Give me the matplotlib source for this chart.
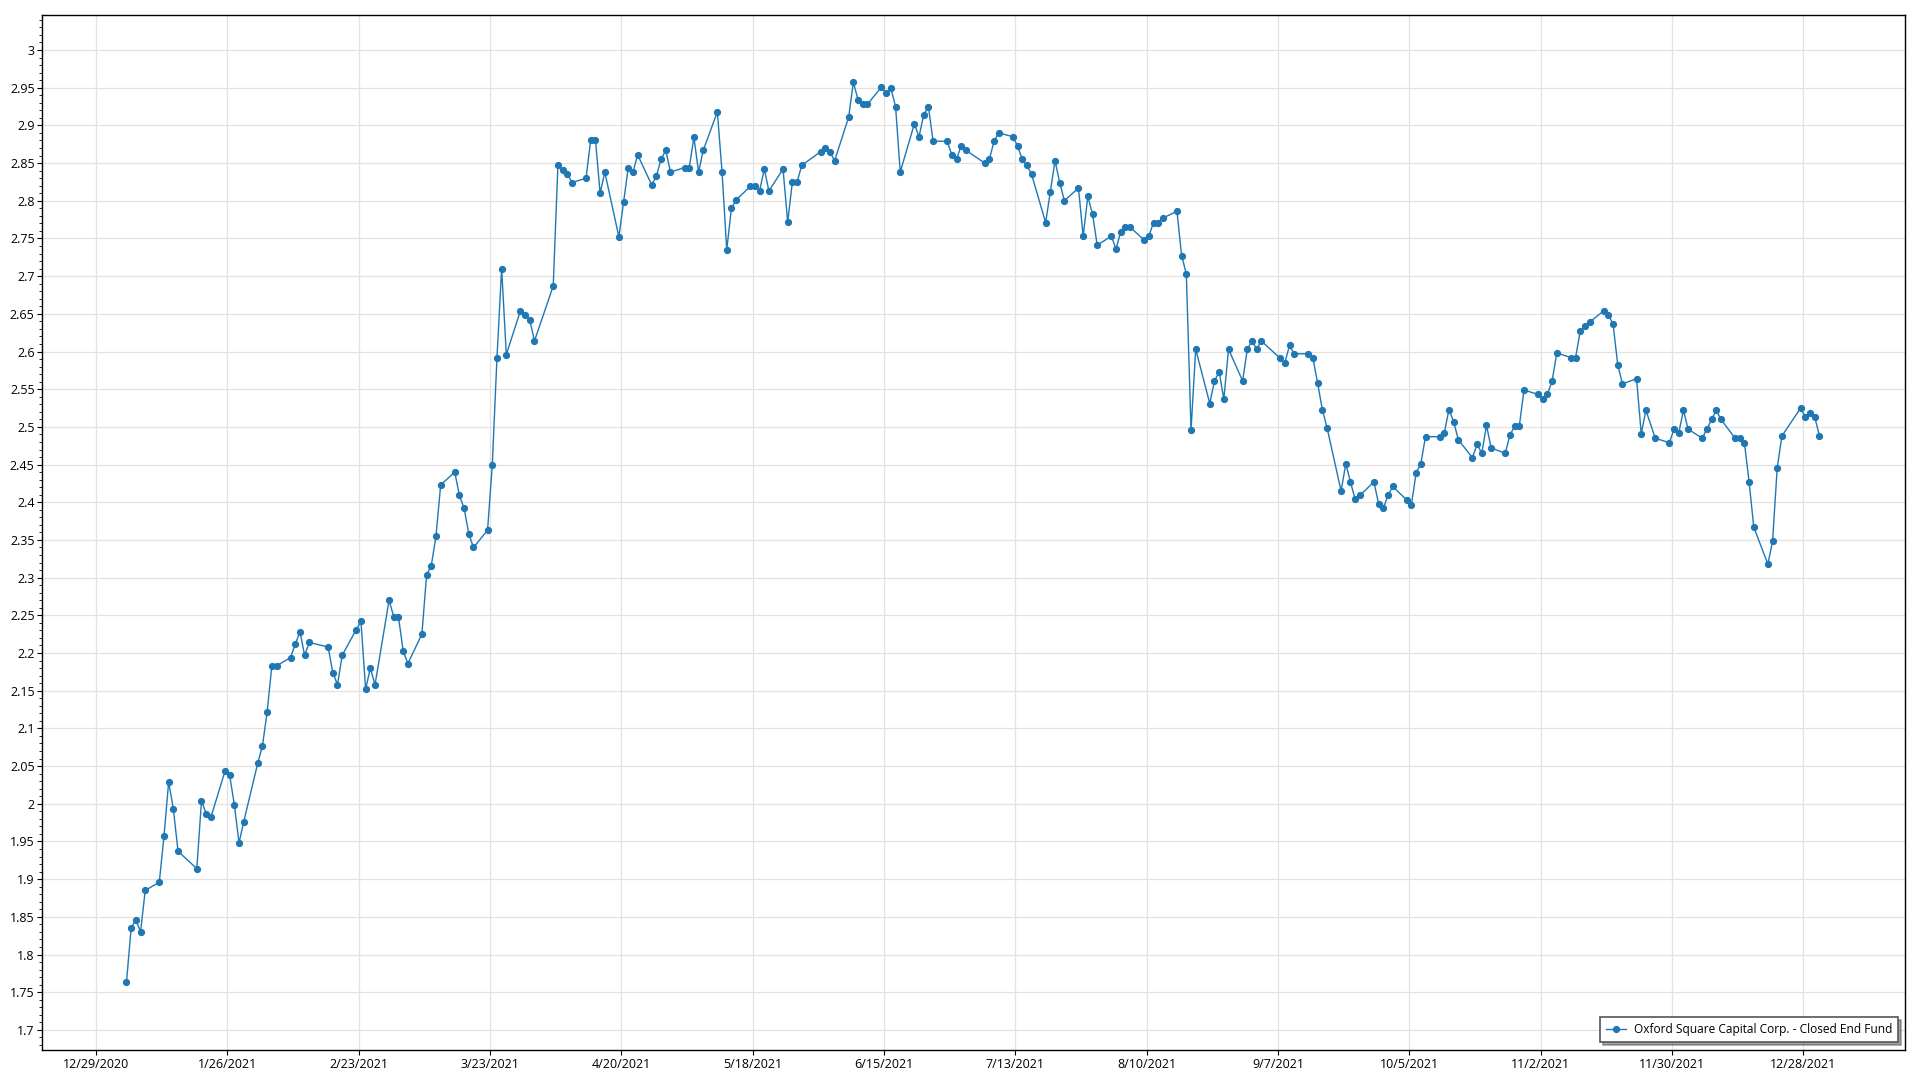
import datetime as dt
import numpy as np
import pandas as pd
import matplotlib
matplotlib.use("Agg")
import matplotlib.pyplot as plt
import matplotlib.dates as mdates
from matplotlib.ticker import MultipleLocator, FuncFormatter

# NYSE holidays in 2021 (no trading -> no point on the chart)
holidays = ["2021-01-18", "2021-02-15", "2021-04-02", "2021-05-31",
            "2021-07-05", "2021-09-06", "2021-11-25", "2021-12-24"]

jan = [1.763, 1.835, 1.846, 1.830, 1.885, 1.896, 1.957, 2.029, 1.993, 1.937,
       1.914, 2.004, 1.987, 1.982, 2.043, 2.038, 1.999, 1.948, 1.976]
feb = [2.054, 2.077, 2.122, 2.183, 2.183, 2.194, 2.212, 2.228, 2.197, 2.214,
       2.208, 2.174, 2.158, 2.197, 2.231, 2.242, 2.152, 2.180, 2.158]
mar = [2.270, 2.248, 2.248, 2.203, 2.186, 2.225, 2.304, 2.316, 2.355, 2.423,
       2.440, 2.409, 2.392, 2.358, 2.340, 2.363, 2.449, 2.591, 2.710, 2.596,
       2.654, 2.648, 2.642]
apr = [2.614, 2.687, 2.847, 2.841, 2.836, 2.824, 2.830, 2.881, 2.881, 2.810,
       2.838, 2.752, 2.798, 2.844, 2.838, 2.861, 2.821, 2.833, 2.855, 2.867,
       2.838]
may = [2.844, 2.844, 2.884, 2.838, 2.867, 2.918, 2.838, 2.735, 2.790, 2.801,
       2.819, 2.819, 2.813, 2.842, 2.813, 2.842, 2.772, 2.825, 2.825, 2.847]
jun = [2.865, 2.870, 2.865, 2.853, 2.911, 2.957, 2.934, 2.928, 2.928, 2.951,
       2.943, 2.949, 2.925, 2.838, 2.902, 2.885, 2.914, 2.925, 2.879, 2.879,
       2.861, 2.855]
jul = [2.873, 2.867, 2.850, 2.855, 2.879, 2.890, 2.885, 2.873, 2.855, 2.847,
       2.835, 2.771, 2.812, 2.853, 2.824, 2.800, 2.817, 2.753, 2.806, 2.782,
       2.741]
aug = [2.753, 2.736, 2.759, 2.765, 2.765, 2.748, 2.753, 2.771, 2.771, 2.777,
       2.786, 2.727, 2.703, 2.496, 2.603, 2.531, 2.561, 2.573, 2.537, 2.603,
       2.561, 2.603]
sep = [2.614, 2.603, 2.614, 2.591, 2.585, 2.608, 2.597, 2.597, 2.591, 2.558,
       2.523, 2.499, 2.415, 2.451, 2.427, 2.404, 2.409, 2.427, 2.398, 2.392,
       2.409]
oct_ = [2.421, 2.403, 2.397, 2.439, 2.451, 2.487, 2.487, 2.492, 2.523, 2.507,
        2.483, 2.459, 2.477, 2.465, 2.502, 2.472, 2.465, 2.489, 2.501, 2.501,
        2.549]
nov = [2.543, 2.537, 2.543, 2.561, 2.598, 2.592, 2.592, 2.627, 2.634, 2.639,
       2.654, 2.649, 2.636, 2.582, 2.557, 2.564, 2.491, 2.522, 2.485, 2.479,
       2.497]
dec = [2.492, 2.522, 2.497, 2.485, 2.497, 2.510, 2.522, 2.510, 2.485, 2.485,
       2.479, 2.427, 2.367, 2.318, 2.348, 2.446, 2.488, 2.525, 2.513, 2.519,
       2.513, 2.488]

series_name = "Oxford Square Capital Corp. - Closed End Fund"

days = pd.bdate_range("2021-01-04", "2021-12-31")
days = days[~days.isin(pd.to_datetime(holidays))]
days = days + pd.Timedelta(hours=11)   # points sit a bit after midnight in the source
values = jan + feb + mar + apr + may + jun + jul + aug + sep + oct_ + nov + dec

plt.rcParams['font.family'] = ['Open Sans', 'DejaVu Sans']

fig = plt.figure(figsize=(19.2, 10.8), dpi=100)
ax = fig.add_axes([0.022, 0.0278, 0.9702, 0.9583])

ax.plot(days, values, '-o', color='#1f77b4', lw=1.0, ms=4.2,
        label=series_name)

ax.set_xlim(dt.datetime(2020, 12, 17, 12), dt.datetime(2022, 1, 18, 17))
ax.set_ylim(1.6734, 3.0464)

xt = [dt.datetime(2020, 12, 29) + dt.timedelta(days=28 * i) for i in range(14)]
ax.set_xticks(xt)
ax.xaxis.set_major_formatter(
    FuncFormatter(lambda x, p: "{d.month}/{d.day}/{d.year}".format(
        d=mdates.num2date(x))))

ax.yaxis.set_major_locator(MultipleLocator(0.05))
ax.yaxis.set_minor_locator(MultipleLocator(0.01))
ax.yaxis.set_major_formatter(FuncFormatter(lambda v, p: "{:g}".format(round(v, 2))))

ax.tick_params(axis='both', which='major', length=3.5, width=0.8,
               labelsize=9, colors='black', pad=2)
ax.tick_params(axis='y', which='minor', length=2, width=0.6)
ax.grid(True, which='major', color='#e2e2e2', lw=0.9)
ax.set_axisbelow(True)
for s in ax.spines.values():
    s.set_color('black')
    s.set_linewidth(1.0)

leg = ax.legend(loc='lower right', fontsize=8.6, fancybox=False, shadow=True,
                framealpha=1, edgecolor='#555555', borderpad=0.5,
                handlelength=1.7, handletextpad=0.6, borderaxespad=0,
                bbox_to_anchor=(0.9962, 0.0077))
leg.get_frame().set_linewidth(1.2)

fig.savefig("out.png", dpi=100)
